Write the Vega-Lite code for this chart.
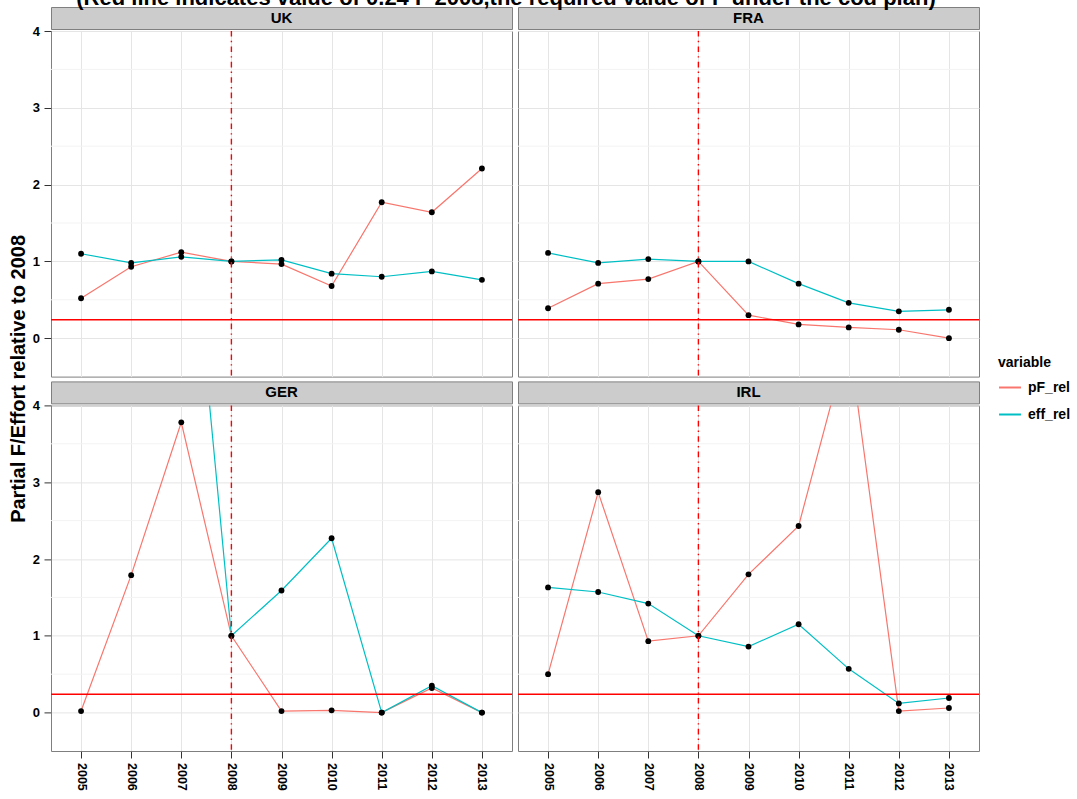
{
  "$schema": "https://vega.github.io/schema/vega-lite/v6.json",
  "background": "white",
  "autosize": {"type": "pad"},
  "padding": {"left": 9, "top": -13, "right": 0, "bottom": 0},
  "title": {
    "text": "Partial F/Effort relative to 2008", "orient": "left", "anchor": "middle",
    "fontSize": 20, "fontWeight": "bold", "color": "black", "offset": 2.5, "dx": 10, "font": "Liberation Sans"
  },
  "datasets": {
    "series": [
      {"country": "UK", "variable": "pF_rel", "year": 2005, "value": 0.52},
      {"country": "UK", "variable": "pF_rel", "year": 2006, "value": 0.93},
      {"country": "UK", "variable": "pF_rel", "year": 2007, "value": 1.12},
      {"country": "UK", "variable": "pF_rel", "year": 2008, "value": 1.0},
      {"country": "UK", "variable": "pF_rel", "year": 2009, "value": 0.965},
      {"country": "UK", "variable": "pF_rel", "year": 2010, "value": 0.68},
      {"country": "UK", "variable": "pF_rel", "year": 2011, "value": 1.77},
      {"country": "UK", "variable": "pF_rel", "year": 2012, "value": 1.64},
      {"country": "UK", "variable": "pF_rel", "year": 2013, "value": 2.21},
      {"country": "UK", "variable": "eff_rel", "year": 2005, "value": 1.10},
      {"country": "UK", "variable": "eff_rel", "year": 2006, "value": 0.98},
      {"country": "UK", "variable": "eff_rel", "year": 2007, "value": 1.06},
      {"country": "UK", "variable": "eff_rel", "year": 2008, "value": 1.0},
      {"country": "UK", "variable": "eff_rel", "year": 2009, "value": 1.02},
      {"country": "UK", "variable": "eff_rel", "year": 2010, "value": 0.84},
      {"country": "UK", "variable": "eff_rel", "year": 2011, "value": 0.80},
      {"country": "UK", "variable": "eff_rel", "year": 2012, "value": 0.87},
      {"country": "UK", "variable": "eff_rel", "year": 2013, "value": 0.76},
      {"country": "FRA", "variable": "pF_rel", "year": 2005, "value": 0.39},
      {"country": "FRA", "variable": "pF_rel", "year": 2006, "value": 0.71},
      {"country": "FRA", "variable": "pF_rel", "year": 2007, "value": 0.77},
      {"country": "FRA", "variable": "pF_rel", "year": 2008, "value": 1.0},
      {"country": "FRA", "variable": "pF_rel", "year": 2009, "value": 0.30},
      {"country": "FRA", "variable": "pF_rel", "year": 2010, "value": 0.18},
      {"country": "FRA", "variable": "pF_rel", "year": 2011, "value": 0.14},
      {"country": "FRA", "variable": "pF_rel", "year": 2012, "value": 0.11},
      {"country": "FRA", "variable": "pF_rel", "year": 2013, "value": 0.0},
      {"country": "FRA", "variable": "eff_rel", "year": 2005, "value": 1.11},
      {"country": "FRA", "variable": "eff_rel", "year": 2006, "value": 0.98},
      {"country": "FRA", "variable": "eff_rel", "year": 2007, "value": 1.03},
      {"country": "FRA", "variable": "eff_rel", "year": 2008, "value": 1.0},
      {"country": "FRA", "variable": "eff_rel", "year": 2009, "value": 1.0},
      {"country": "FRA", "variable": "eff_rel", "year": 2010, "value": 0.71},
      {"country": "FRA", "variable": "eff_rel", "year": 2011, "value": 0.46},
      {"country": "FRA", "variable": "eff_rel", "year": 2012, "value": 0.35},
      {"country": "FRA", "variable": "eff_rel", "year": 2013, "value": 0.37},
      {"country": "GER", "variable": "pF_rel", "year": 2005, "value": 0.02},
      {"country": "GER", "variable": "pF_rel", "year": 2006, "value": 1.79},
      {"country": "GER", "variable": "pF_rel", "year": 2007, "value": 3.78},
      {"country": "GER", "variable": "pF_rel", "year": 2008, "value": 1.0},
      {"country": "GER", "variable": "pF_rel", "year": 2009, "value": 0.02},
      {"country": "GER", "variable": "pF_rel", "year": 2010, "value": 0.03},
      {"country": "GER", "variable": "pF_rel", "year": 2011, "value": 0.0},
      {"country": "GER", "variable": "pF_rel", "year": 2012, "value": 0.32},
      {"country": "GER", "variable": "pF_rel", "year": 2013, "value": 0.0},
      {"country": "GER", "variable": "eff_rel", "year": 2007, "value": 7.9},
      {"country": "GER", "variable": "eff_rel", "year": 2008, "value": 1.0},
      {"country": "GER", "variable": "eff_rel", "year": 2009, "value": 1.59},
      {"country": "GER", "variable": "eff_rel", "year": 2010, "value": 2.27},
      {"country": "GER", "variable": "eff_rel", "year": 2011, "value": 0.0},
      {"country": "GER", "variable": "eff_rel", "year": 2012, "value": 0.35},
      {"country": "GER", "variable": "eff_rel", "year": 2013, "value": 0.0},
      {"country": "IRL", "variable": "pF_rel", "year": 2005, "value": 0.50},
      {"country": "IRL", "variable": "pF_rel", "year": 2006, "value": 2.87},
      {"country": "IRL", "variable": "pF_rel", "year": 2007, "value": 0.93},
      {"country": "IRL", "variable": "pF_rel", "year": 2008, "value": 1.0},
      {"country": "IRL", "variable": "pF_rel", "year": 2009, "value": 1.80},
      {"country": "IRL", "variable": "pF_rel", "year": 2010, "value": 2.43},
      {"country": "IRL", "variable": "pF_rel", "year": 2011, "value": 4.88},
      {"country": "IRL", "variable": "pF_rel", "year": 2012, "value": 0.02},
      {"country": "IRL", "variable": "pF_rel", "year": 2013, "value": 0.06},
      {"country": "IRL", "variable": "eff_rel", "year": 2005, "value": 1.63},
      {"country": "IRL", "variable": "eff_rel", "year": 2006, "value": 1.57},
      {"country": "IRL", "variable": "eff_rel", "year": 2007, "value": 1.42},
      {"country": "IRL", "variable": "eff_rel", "year": 2008, "value": 1.0},
      {"country": "IRL", "variable": "eff_rel", "year": 2009, "value": 0.86},
      {"country": "IRL", "variable": "eff_rel", "year": 2010, "value": 1.15},
      {"country": "IRL", "variable": "eff_rel", "year": 2011, "value": 0.57},
      {"country": "IRL", "variable": "eff_rel", "year": 2012, "value": 0.12},
      {"country": "IRL", "variable": "eff_rel", "year": 2013, "value": 0.19}
    ],
    "refs": [{"hline": 0.24, "vline": 2008}],
    "minor": [{"m": 0.5}, {"m": 1.5}, {"m": 2.5}, {"m": 3.5}],
    "strips": [{"country": "UK"}, {"country": "FRA"}, {"country": "GER"}, {"country": "IRL"}]
  },
  "spacing": 2.4,
  "vconcat": [
    {
      "title": {
        "text": "(Red line indicates value of 0.24 F 2008,the required value of F under the cod plan)",
        "fontSize": 22, "fontWeight": "bold", "color": "black", "anchor": "middle",
        "baseline": "alphabetic", "offset": -20.5, "font": "Liberation Sans"
      },
      "spacing": -6,
      "vconcat": [
        {
          "spacing": 6,
          "bounds": "flush",
          "hconcat": [
            {"data": {"name": "strips"}, "transform": [{"filter": "datum.country === 'UK'"}], "width": 461, "height": 22,
             "view": {"fill": "#CCCCCC", "stroke": "#7F7F7F", "strokeWidth": 1},
             "mark": {"type": "text", "fontSize": 15, "fontWeight": "bold", "color": "black", "baseline": "middle", "align": "center"},
             "encoding": {"text": {"field": "country", "type": "nominal"}}},
            {"data": {"name": "strips"}, "transform": [{"filter": "datum.country === 'FRA'"}], "width": 461, "height": 22,
             "view": {"fill": "#CCCCCC", "stroke": "#7F7F7F", "strokeWidth": 1},
             "mark": {"type": "text", "fontSize": 15, "fontWeight": "bold", "color": "black", "baseline": "middle", "align": "center"},
             "encoding": {"text": {"field": "country", "type": "nominal"}}}
          ]
        },
        {
          "spacing": 6,
          "bounds": "flush",
          "hconcat": [
            {
              "width": 461, "height": 345.6,
              "layer": [
                {"data": {"name": "minor"}, "mark": {"type": "rule", "color": "#F3F3F3", "strokeWidth": 1},
                 "encoding": {"y": {"field": "m", "type": "quantitative", "scale": {"domain": [-0.5, 4], "nice": false, "zero": false}}}},
                {"data": {"name": "series"}, "transform": [{"filter": "datum.country === 'UK'"}],
                 "mark": {"type": "line", "clip": true, "strokeWidth": 1.2},
                 "encoding": {
                   "x": {"field": "year", "type": "quantitative", "scale": {"domain": [2004.4, 2013.6], "nice": false, "zero": false},
                         "axis": {"values": [2005, 2006, 2007, 2008, 2009, 2010, 2011, 2012, 2013], "labels": false, "ticks": false, "domain": false, "grid": true, "title": null}},
                   "y": {"field": "value", "type": "quantitative", "scale": {"domain": [-0.5, 4], "nice": false, "zero": false},
                         "axis": {"values": [0, 1, 2, 3, 4], "format": "d", "labelFontSize": 13, "tickSize": 7, "labelPadding": 4.5, "domain": false, "grid": true, "title": null}},
                   "color": {"field": "variable", "type": "nominal", "scale": {"domain": ["pF_rel", "eff_rel"], "range": ["#F8766D", "#00BFC4"]},
                             "legend": {"title": "variable", "orient": "none", "legendX": 947, "legendY": 348.5, "symbolType": "stroke", "symbolStrokeWidth": 2, "symbolSize": 480,
                                        "labelFontSize": 14, "labelFontWeight": "bold", "labelColor": "black", "titleFontSize": 14, "titleFontWeight": "bold", "titleColor": "black",
                                        "rowPadding": 8, "titlePadding": 6, "padding": 0, "labelOffset": 6}}
                 }},
                {"data": {"name": "series"}, "transform": [{"filter": "datum.country === 'UK'"}],
                 "mark": {"type": "point", "clip": true, "filled": true, "color": "black", "opacity": 1, "size": 34},
                 "encoding": {
                   "x": {"field": "year", "type": "quantitative", "scale": {"domain": [2004.4, 2013.6], "nice": false, "zero": false}},
                   "y": {"field": "value", "type": "quantitative", "scale": {"domain": [-0.5, 4], "nice": false, "zero": false}}
                 }},
                {"data": {"name": "refs"}, "mark": {"type": "rule", "color": "#FF0000", "strokeWidth": 1.5},
                 "encoding": {"y": {"field": "hline", "type": "quantitative", "scale": {"domain": [-0.5, 4], "nice": false, "zero": false}}}},
                {"data": {"name": "refs"}, "mark": {"type": "rule", "color": "#FF0000", "strokeWidth": 1.4, "strokeDash": [5.6, 4.2, 1.4, 4.2]},
                 "encoding": {"x": {"field": "vline", "type": "quantitative", "scale": {"domain": [2004.4, 2013.6], "nice": false, "zero": false}}}}
              ]
            },
            {
              "width": 461, "height": 345.6,
              "layer": [
                {"data": {"name": "minor"}, "mark": {"type": "rule", "color": "#F3F3F3", "strokeWidth": 1},
                 "encoding": {"y": {"field": "m", "type": "quantitative", "scale": {"domain": [-0.5, 4], "nice": false, "zero": false}}}},
                {"data": {"name": "series"}, "transform": [{"filter": "datum.country === 'FRA'"}],
                 "mark": {"type": "line", "clip": true, "strokeWidth": 1.2},
                 "encoding": {
                   "x": {"field": "year", "type": "quantitative", "scale": {"domain": [2004.4, 2013.6], "nice": false, "zero": false},
                         "axis": {"values": [2005, 2006, 2007, 2008, 2009, 2010, 2011, 2012, 2013], "labels": false, "ticks": false, "domain": false, "grid": true, "title": null}},
                   "y": {"field": "value", "type": "quantitative", "scale": {"domain": [-0.5, 4], "nice": false, "zero": false},
                         "axis": {"values": [0, 1, 2, 3, 4], "labels": false, "ticks": false, "domain": false, "grid": true, "title": null}},
                   "color": {"field": "variable", "type": "nominal", "scale": {"domain": ["pF_rel", "eff_rel"], "range": ["#F8766D", "#00BFC4"]},
                             "legend": {"title": "variable", "orient": "none", "legendX": 947, "legendY": 348.5, "symbolType": "stroke", "symbolStrokeWidth": 2, "symbolSize": 480,
                                        "labelFontSize": 14, "labelFontWeight": "bold", "labelColor": "black", "titleFontSize": 14, "titleFontWeight": "bold", "titleColor": "black",
                                        "rowPadding": 8, "titlePadding": 6, "padding": 0, "labelOffset": 6}}
                 }},
                {"data": {"name": "series"}, "transform": [{"filter": "datum.country === 'FRA'"}],
                 "mark": {"type": "point", "clip": true, "filled": true, "color": "black", "opacity": 1, "size": 34},
                 "encoding": {
                   "x": {"field": "year", "type": "quantitative", "scale": {"domain": [2004.4, 2013.6], "nice": false, "zero": false}},
                   "y": {"field": "value", "type": "quantitative", "scale": {"domain": [-0.5, 4], "nice": false, "zero": false}}
                 }},
                {"data": {"name": "refs"}, "mark": {"type": "rule", "color": "#FF0000", "strokeWidth": 1.5},
                 "encoding": {"y": {"field": "hline", "type": "quantitative", "scale": {"domain": [-0.5, 4], "nice": false, "zero": false}}}},
                {"data": {"name": "refs"}, "mark": {"type": "rule", "color": "#FF0000", "strokeWidth": 1.4, "strokeDash": [5.6, 4.2, 1.4, 4.2]},
                 "encoding": {"x": {"field": "vline", "type": "quantitative", "scale": {"domain": [2004.4, 2013.6], "nice": false, "zero": false}}}}
              ]
            }
          ]
        }
      ]
    },
    {
      "spacing": -6,
      "vconcat": [
        {
          "spacing": 6,
          "bounds": "flush",
          "hconcat": [
            {"data": {"name": "strips"}, "transform": [{"filter": "datum.country === 'GER'"}], "width": 461, "height": 22,
             "view": {"fill": "#CCCCCC", "stroke": "#7F7F7F", "strokeWidth": 1},
             "mark": {"type": "text", "fontSize": 15, "fontWeight": "bold", "color": "black", "baseline": "middle", "align": "center"},
             "encoding": {"text": {"field": "country", "type": "nominal"}}},
            {"data": {"name": "strips"}, "transform": [{"filter": "datum.country === 'IRL'"}], "width": 461, "height": 22,
             "view": {"fill": "#CCCCCC", "stroke": "#7F7F7F", "strokeWidth": 1},
             "mark": {"type": "text", "fontSize": 15, "fontWeight": "bold", "color": "black", "baseline": "middle", "align": "center"},
             "encoding": {"text": {"field": "country", "type": "nominal"}}}
          ]
        },
        {
          "spacing": 6,
          "bounds": "flush",
          "hconcat": [
            {
              "width": 461, "height": 345.6,
              "layer": [
                {"data": {"name": "minor"}, "mark": {"type": "rule", "color": "#F3F3F3", "strokeWidth": 1},
                 "encoding": {"y": {"field": "m", "type": "quantitative", "scale": {"domain": [-0.5, 4], "nice": false, "zero": false}}}},
                {"data": {"name": "series"}, "transform": [{"filter": "datum.country === 'GER'"}],
                 "mark": {"type": "line", "clip": true, "strokeWidth": 1.2},
                 "encoding": {
                   "x": {"field": "year", "type": "quantitative", "scale": {"domain": [2004.4, 2013.6], "nice": false, "zero": false},
                         "axis": {"values": [2005, 2006, 2007, 2008, 2009, 2010, 2011, 2012, 2013], "format": "d", "labelAngle": 90, "labelFontSize": 12.5, "tickSize": 7, "labelPadding": 4.5, "domain": false, "grid": true, "title": null}},
                   "y": {"field": "value", "type": "quantitative", "scale": {"domain": [-0.5, 4], "nice": false, "zero": false},
                         "axis": {"values": [0, 1, 2, 3, 4], "format": "d", "labelFontSize": 13, "tickSize": 7, "labelPadding": 4.5, "domain": false, "grid": true, "title": null}},
                   "color": {"field": "variable", "type": "nominal", "scale": {"domain": ["pF_rel", "eff_rel"], "range": ["#F8766D", "#00BFC4"]},
                             "legend": {"title": "variable", "orient": "none", "legendX": 947, "legendY": 348.5, "symbolType": "stroke", "symbolStrokeWidth": 2, "symbolSize": 480,
                                        "labelFontSize": 14, "labelFontWeight": "bold", "labelColor": "black", "titleFontSize": 14, "titleFontWeight": "bold", "titleColor": "black",
                                        "rowPadding": 8, "titlePadding": 6, "padding": 0, "labelOffset": 6}}
                 }},
                {"data": {"name": "series"}, "transform": [{"filter": "datum.country === 'GER'"}],
                 "mark": {"type": "point", "clip": true, "filled": true, "color": "black", "opacity": 1, "size": 34},
                 "encoding": {
                   "x": {"field": "year", "type": "quantitative", "scale": {"domain": [2004.4, 2013.6], "nice": false, "zero": false}},
                   "y": {"field": "value", "type": "quantitative", "scale": {"domain": [-0.5, 4], "nice": false, "zero": false}}
                 }},
                {"data": {"name": "refs"}, "mark": {"type": "rule", "color": "#FF0000", "strokeWidth": 1.5},
                 "encoding": {"y": {"field": "hline", "type": "quantitative", "scale": {"domain": [-0.5, 4], "nice": false, "zero": false}}}},
                {"data": {"name": "refs"}, "mark": {"type": "rule", "color": "#FF0000", "strokeWidth": 1.4, "strokeDash": [5.6, 4.2, 1.4, 4.2]},
                 "encoding": {"x": {"field": "vline", "type": "quantitative", "scale": {"domain": [2004.4, 2013.6], "nice": false, "zero": false}}}}
              ]
            },
            {
              "width": 461, "height": 345.6,
              "layer": [
                {"data": {"name": "minor"}, "mark": {"type": "rule", "color": "#F3F3F3", "strokeWidth": 1},
                 "encoding": {"y": {"field": "m", "type": "quantitative", "scale": {"domain": [-0.5, 4], "nice": false, "zero": false}}}},
                {"data": {"name": "series"}, "transform": [{"filter": "datum.country === 'IRL'"}],
                 "mark": {"type": "line", "clip": true, "strokeWidth": 1.2},
                 "encoding": {
                   "x": {"field": "year", "type": "quantitative", "scale": {"domain": [2004.4, 2013.6], "nice": false, "zero": false},
                         "axis": {"values": [2005, 2006, 2007, 2008, 2009, 2010, 2011, 2012, 2013], "format": "d", "labelAngle": 90, "labelFontSize": 12.5, "tickSize": 7, "labelPadding": 4.5, "domain": false, "grid": true, "title": null}},
                   "y": {"field": "value", "type": "quantitative", "scale": {"domain": [-0.5, 4], "nice": false, "zero": false},
                         "axis": {"values": [0, 1, 2, 3, 4], "labels": false, "ticks": false, "domain": false, "grid": true, "title": null}},
                   "color": {"field": "variable", "type": "nominal", "scale": {"domain": ["pF_rel", "eff_rel"], "range": ["#F8766D", "#00BFC4"]},
                             "legend": {"title": "variable", "orient": "none", "legendX": 947, "legendY": 348.5, "symbolType": "stroke", "symbolStrokeWidth": 2, "symbolSize": 480,
                                        "labelFontSize": 14, "labelFontWeight": "bold", "labelColor": "black", "titleFontSize": 14, "titleFontWeight": "bold", "titleColor": "black",
                                        "rowPadding": 8, "titlePadding": 6, "padding": 0, "labelOffset": 6}}
                 }},
                {"data": {"name": "series"}, "transform": [{"filter": "datum.country === 'IRL'"}],
                 "mark": {"type": "point", "clip": true, "filled": true, "color": "black", "opacity": 1, "size": 34},
                 "encoding": {
                   "x": {"field": "year", "type": "quantitative", "scale": {"domain": [2004.4, 2013.6], "nice": false, "zero": false}},
                   "y": {"field": "value", "type": "quantitative", "scale": {"domain": [-0.5, 4], "nice": false, "zero": false}}
                 }},
                {"data": {"name": "refs"}, "mark": {"type": "rule", "color": "#FF0000", "strokeWidth": 1.5},
                 "encoding": {"y": {"field": "hline", "type": "quantitative", "scale": {"domain": [-0.5, 4], "nice": false, "zero": false}}}},
                {"data": {"name": "refs"}, "mark": {"type": "rule", "color": "#FF0000", "strokeWidth": 1.4, "strokeDash": [5.6, 4.2, 1.4, 4.2]},
                 "encoding": {"x": {"field": "vline", "type": "quantitative", "scale": {"domain": [2004.4, 2013.6], "nice": false, "zero": false}}}}
              ]
            }
          ]
        }
      ]
    }
  ],
  "config": {
    "font": "Liberation Sans",
    "view": {"stroke": "#7F7F7F", "strokeWidth": 1},
    "axis": {"labelFont": "Liberation Sans", "labelColor": "black", "labelFontWeight": "bold", "tickColor": "#333333", "gridColor": "#E5E5E5", "gridWidth": 1, "domain": false, "titleColor": "black", "titleFont": "Liberation Sans"},
    "legend": {"labelFont": "Liberation Sans", "titleFont": "Liberation Sans"}
  }
}
